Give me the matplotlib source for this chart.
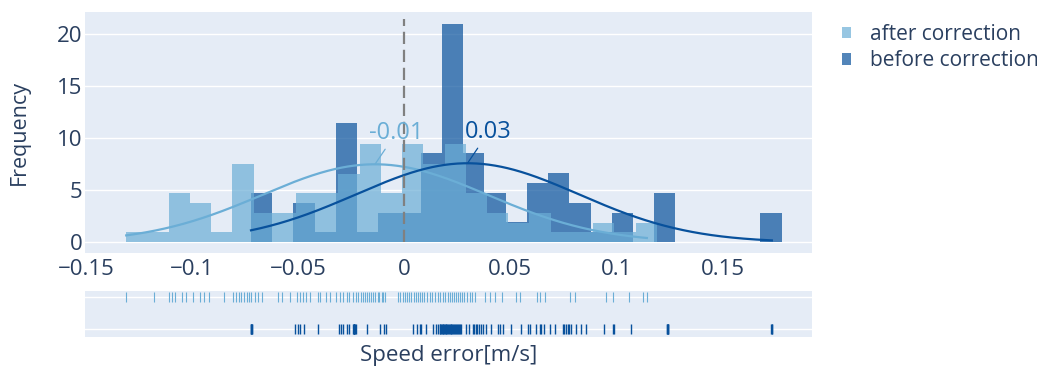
import numpy as np
import matplotlib
matplotlib.use("Agg")
import matplotlib.pyplot as plt
from matplotlib.patches import Patch

plt.rcParams["font.family"] = ["Open Sans", "DejaVu Sans"]
plt.rcParams["text.color"] = "#2a3f5f"
plt.rcParams["axes.labelcolor"] = "#2a3f5f"
plt.rcParams["xtick.color"] = "#2a3f5f"
plt.rcParams["ytick.color"] = "#2a3f5f"

after_correction = [
    -0.1310, -0.1178,
    -0.1108, -0.1095, -0.1080, -0.1048, -0.1030,
    -0.0995, -0.0960, -0.0943, -0.0920,
    -0.0850,
    -0.0805, -0.0792, -0.0780, -0.0768, -0.0755, -0.0742, -0.0730, -0.0720,
    -0.0702, -0.0688, -0.0668,
    -0.0597, -0.0575, -0.0540,
    -0.0505, -0.0490, -0.0478, -0.0462, -0.0445,
    -0.0405, -0.0396, -0.0370, -0.0350, -0.0322,
    -0.0302, -0.0288, -0.0272, -0.0258, -0.0242, -0.0228, -0.0218,
    -0.0205, -0.0196, -0.0186, -0.0176, -0.0166, -0.0156, -0.0146, -0.0136, -0.0126, -0.0118,
    -0.0105, -0.0098, -0.0090, -0.0028, -0.0018,
    -0.0006, 0.0004, 0.0014, 0.0024, 0.0034, 0.0044, 0.0054, 0.0064, 0.0074, 0.0082,
    0.0095, 0.0108, 0.0120, 0.0132, 0.0145, 0.0158, 0.0170, 0.0182,
    0.0194, 0.0204, 0.0214, 0.0224, 0.0234, 0.0244, 0.0254, 0.0264, 0.0274, 0.0283,
    0.0296, 0.0308, 0.0320, 0.0332, 0.0379,
    0.0402, 0.0426, 0.0459,
    0.0526, 0.0545,
    0.0624, 0.0638, 0.0662,
    0.0782, 0.0805,
    0.0952, 0.0984,
    0.1058,
    0.1124, 0.1143,
]
before_correction = [
    -0.0722, -0.0721, -0.0720, -0.0719, -0.0718,
    -0.0515, -0.0500, -0.0490, -0.0470,
    -0.0408,
    -0.0307, -0.0298, -0.0288, -0.0272, -0.0262, -0.0240, -0.0239, -0.0238, -0.0237, -0.0236, -0.0232, -0.0228,
    -0.0175,
    -0.0115, -0.0096, -0.0084,
    0.0041, 0.0060, 0.0072,
    0.0081, 0.0104, 0.0136, 0.0150, 0.0160, 0.0167, 0.0170, 0.0173, 0.0176,
    0.0181, 0.0184, 0.0188, 0.0192, 0.0195, 0.0199, 0.0203, 0.0207, 0.0211, 0.0214, 0.0218,
    0.0222, 0.0226, 0.0230, 0.0234, 0.0238, 0.0246, 0.0250, 0.0255, 0.0260, 0.0265, 0.0269,
    0.0290, 0.0305, 0.0324, 0.0330, 0.0337, 0.0345, 0.0352, 0.0363, 0.0372,
    0.0387, 0.0410, 0.0441, 0.0449, 0.0465,
    0.0504, 0.0552,
    0.0583, 0.0594, 0.0620, 0.0638, 0.0646, 0.0660,
    0.0685, 0.0708, 0.0747, 0.0755, 0.0762, 0.0771, 0.0775,
    0.0787, 0.0810, 0.0835, 0.0857,
    0.0939,
    0.0983, 0.0990, 0.1070,
    0.1240, 0.1240, 0.1241, 0.1241, 0.1242,
    0.1730, 0.1731, 0.1732,
]

labels = ["after correction", "before correction"]
colors = ["#6baed6", "#08519c"]
bin_size = 0.01

# normal fits: (mean, std)
after_fit = (-0.0138, 0.0532)
before_fit = (0.0298, 0.0525)
mean_labels = ["-0.01", "0.03"]

x_ticks = [-0.15, -0.1, -0.05, 0, 0.05, 0.1, 0.15]
x_tick_labels = ["\u22120.15", "\u22120.1", "\u22120.05", "0", "0.05", "0.1", "0.15"]
y_ticks = [0, 5, 10, 15, 20]
zero_line_top = 21.5

bg = "#e5ecf6"


def make_bins(data):
    lo, hi = min(data), max(data)
    n = int(np.ceil((hi - lo) / bin_size))
    return lo + bin_size * np.arange(n + 1)


def normal_curve(data, fit):
    mu, sd = fit
    xs = np.linspace(min(data), max(data), 500)
    ys = np.exp(-0.5 * ((xs - mu) / sd) ** 2) / (sd * np.sqrt(2 * np.pi))
    return xs, ys


fig = plt.figure(figsize=(10.37, 3.68), dpi=100)
ax = fig.add_axes([0.0820, 0.3125, 0.7010, 0.6549])
ax_rug = fig.add_axes([0.0820, 0.0842, 0.7010, 0.125], sharex=ax)

for a in (ax, ax_rug):
    a.set_facecolor(bg)
    for s in a.spines.values():
        s.set_visible(False)
    a.set_axisbelow(True)

series = [after_correction, before_correction]
fits = [after_fit, before_fit]

# before drawn first, after overlaid on top
ax.hist(before_correction, bins=make_bins(before_correction), density=True,
        color=colors[1], alpha=0.7, zorder=2)
ax.hist(after_correction, bins=make_bins(after_correction), density=True,
        color=colors[0], alpha=0.7, zorder=3)

for data, fit, c, txt in zip(series, fits, colors, mean_labels):
    xs, ys = normal_curve(data, fit)
    ax.plot(xs, ys, color=c, lw=1.6, zorder=4)
    mu, sd = fit
    peak = 1 / (sd * np.sqrt(2 * np.pi))
    ax.annotate(txt, xy=(mu, peak), xytext=(21, 31), textcoords="offset pixels",
                ha="center", va="center", fontsize=17, color=c, zorder=6,
                arrowprops=dict(arrowstyle="-", color=c, lw=0.9,
                                shrinkA=1, shrinkB=0))

ax.vlines(0, 0, zero_line_top, colors="#808080", lw=1.6,
          linestyles=(0, (5.5, 2.6)), zorder=5)

ax.set_xlim(-0.1504, 0.1921)
ax.set_ylim(-1.03, 22.14)
ax.set_yticks(y_ticks)
ax.set_xticks(x_ticks)
ax.set_xticklabels(x_tick_labels)
ax.grid(axis="y", color="white", lw=1.0)
ax.grid(axis="x", visible=False)
ax.tick_params(axis="both", length=0, labelsize=16)
ax.tick_params(axis="x", pad=4)
ax.tick_params(axis="y", pad=2)
ax.set_ylabel("Frequency", fontsize=15.5)
ax.yaxis.set_label_coords(-0.076, 0.5)

# rug strip
ax_rug.plot(after_correction, np.ones(len(after_correction)), ls="none", marker="|",
            ms=7.5, mew=0.8, color=colors[0], zorder=3)
ax_rug.plot(before_correction, np.zeros(len(before_correction)), ls="none", marker="|",
            ms=7.5, mew=1.0, color=colors[1], zorder=3)
ax_rug.set_ylim(-0.24, 1.197)
ax_rug.set_yticks([0, 1])
ax_rug.grid(axis="y", color="white", lw=1.0)
ax_rug.grid(axis="x", visible=False)
ax_rug.tick_params(axis="both", length=0, labelleft=False, labelbottom=False)
ax_rug.set_xlabel("Speed error[m/s]", fontsize=16)
ax_rug.xaxis.set_label_coords(0.5, -0.17)

handles = [Patch(facecolor=c, alpha=0.7, edgecolor="none") for c in colors]
fig.legend(handles, labels, loc="upper left", bbox_to_anchor=(0.812, 0.934),
           frameon=False, fontsize=15, handlelength=0.45, handleheight=0.45,
           handletextpad=0.9, labelspacing=0.25, borderpad=0, borderaxespad=0)

fig.savefig("out.png", dpi=100)
